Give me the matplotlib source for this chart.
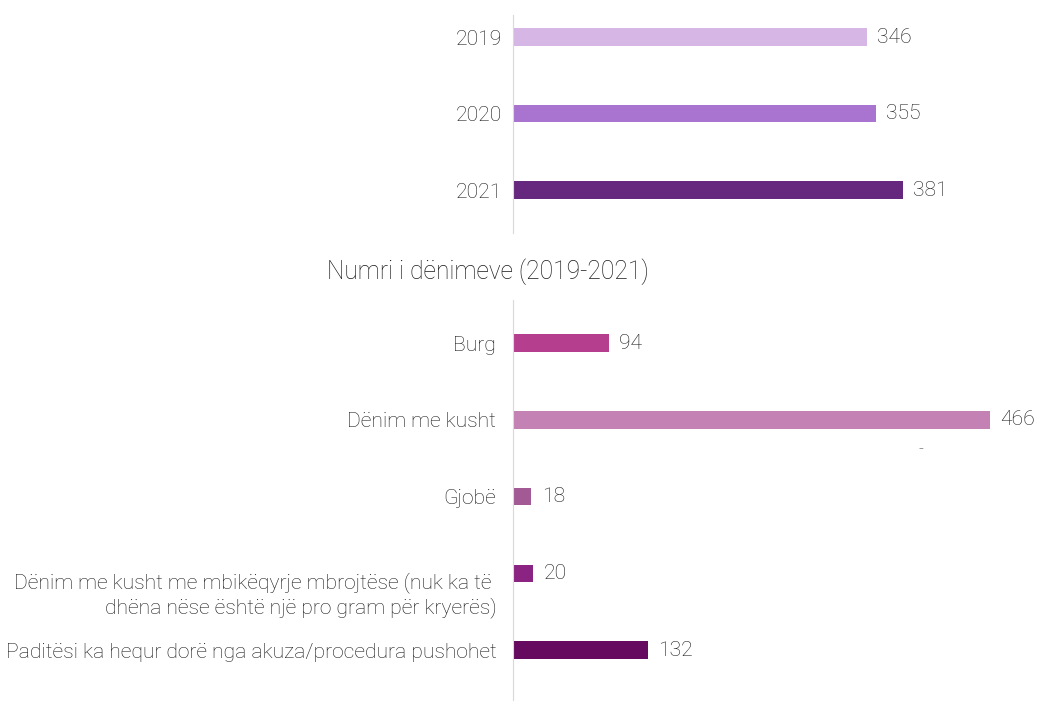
import numpy as np
import matplotlib.pyplot as plt
import matplotlib.transforms as mtrans

plt.rcParams['font.family'] = ['Roboto', 'DejaVu Sans']
plt.rcParams['font.weight'] = 'light'

# ceshtjet sipas vitit
years = ['2019', '2020', '2021']
year_counts = [346, 355, 381]
year_colors = ['#D5B6E4', '#A974CF', '#66287F']

# llojet e denimeve
kinds = ['Burg',
         'Dënim me kusht',
         'Gjobë',
         'Dënim me kusht me mbikëqyrje mbrojtëse (nuk ka të \ndhëna nëse është një pro gram për kryerës)',
         'Paditësi ka hequr dorë nga akuza/procedura pushohet']
kind_counts = [94, 466, 18, 20, 132]
kind_colors = ['#B53E8F', '#C482B4', '#A35A94', '#8A2382', '#650A5E']

txt = '#1a1a1a'
fs = 15.2

fig = plt.figure(figsize=(10.38, 7.01), dpi=100)
ax1 = fig.add_axes([0.4942, 0.6676, 0.4928, 0.311])
ax2 = fig.add_axes([0.4942, 0.0014, 0.4928, 0.5706])


def style(ax, labels, vals, ylim, pad):
    ax.set_xlim(0, 500)
    ax.set_ylim(*ylim)
    ax.set_yticks(np.arange(len(labels)))
    ax.set_yticklabels(labels, fontsize=fs, color=txt, linespacing=1.25)
    ax.tick_params(axis='y', length=0, pad=pad)
    ax.set_xticks([])
    for s in ['top', 'right', 'bottom']:
        ax.spines[s].set_visible(False)
    ax.spines['left'].set_color('#d9d9d9')
    for i, v in enumerate(vals):
        ax.text(v + 10, i, str(v), va='center', ha='left', fontsize=fs, color=txt)


ax1.barh(np.arange(3), year_counts, height=0.23, color=year_colors)
style(ax1, years, year_counts, (2.56, -0.29), 8)

ax2.barh(np.arange(5), kind_counts, height=0.23, color=kind_colors)
style(ax2, kinds, kind_counts, (4.65, -0.56), 12)
ax2.text(396, 1.39, '-', ha='left', va='center', fontsize=12, color=txt)

# the two-line label sits a little below its bar
lab = ax2.get_yticklabels()[3]
lab.set_transform(lab.get_transform() +
                  mtrans.ScaledTranslation(0, -0.17, fig.dpi_scale_trans))

fig.text(0.470, 0.612, 'Numri i dënimeve (2019-2021)', ha='center', va='center',
         fontsize=17.7, color=txt)

fig.savefig('out.png', dpi=100)
